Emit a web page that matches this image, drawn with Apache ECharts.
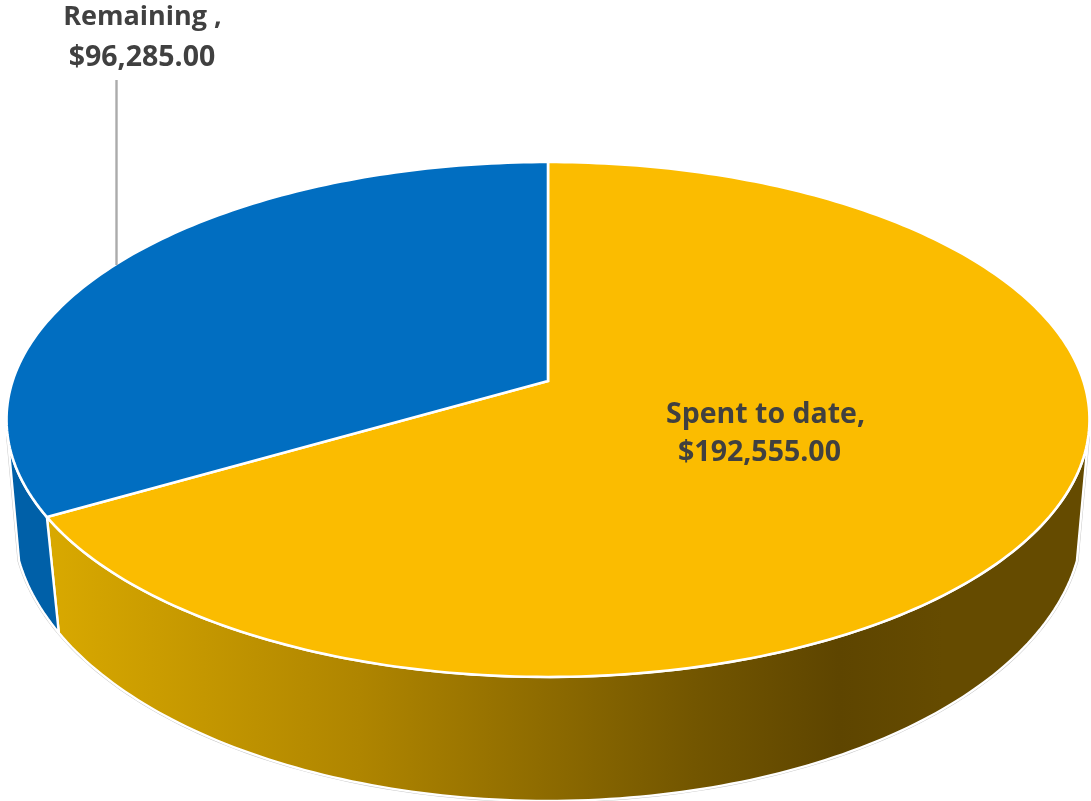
<!DOCTYPE html>
<html>
<head>
<meta charset="utf-8">
<style>
  html, body { margin: 0; padding: 0; background: #fff; }
  #chart { width: 1091px; height: 801px; }
</style>
<script src="https://cdn.jsdelivr.net/npm/echarts@6/dist/echarts.min.js"></script>
</head>
<body>
<div id="chart"></div>
<script>
// Project budget split
const categories = ['Spent to date', 'Remaining '];
const amounts = [192555, 96285];
const sliceColors = ['#FBBC00', '#016EC1'];

// Perspective model of the disc: a rim point at clockwise angle t from the back
// maps through x = cx + a*sin(t)/w, y = cy - b*cos(t)/w, w = 1 + k*cos(t).
const topFace = { cx: 548, cy: 381, a: 535.4, b: 251.7, k: 0.1495 };
const baseFace = { cx: 548, cy: 485, a: 531, b: 278, k: 0.12 };

// Angles where the wall's outline leaves the top rim and meets the base rim.
const topTangent = 102.5;
const baseTangent = 105.3;
const STEP = 1;

const wallFills = [
  {
    type: 'linear', x: 47, y: 0, x2: 1089, y2: 0, global: true,
    colorStops: [
      { offset: 0, color: '#D9A900' },
      { offset: 0.3, color: '#AF8500' },
      { offset: 0.62, color: '#735600' },
      { offset: 0.76, color: '#5E4500' },
      { offset: 0.86, color: '#654B00' },
      { offset: 1, color: '#654B00' }
    ]
  },
  '#0060A8'
];

// Label layout: each text line has its own anchor and size.
const labelLayouts = [
  [{ x: 765.5, y: 415, size: 28.5 }, { x: 759.5, y: 453, size: 28.5 }],
  [{ x: 142.5, y: 17, size: 27 }, { x: 142, y: 58, size: 28.5 }]
];
const leaderLines = [null, [[116.5, 80], [116.5, 265]]];

const total = amounts.reduce((s, v) => s + v, 0);

function project(face, deg) {
  const t = deg * Math.PI / 180;
  const w = 1 + face.k * Math.cos(t);
  return [face.cx + face.a * Math.sin(t) / w, face.cy - face.b * Math.cos(t) / w];
}

function arc(face, from, to) {
  const pts = [];
  const dir = to >= from ? 1 : -1;
  const n = Math.max(1, Math.round(Math.abs(to - from) / STEP));
  for (let i = 0; i <= n; i++) {
    pts.push(project(face, from + dir * Math.abs(to - from) * i / n));
  }
  return pts;
}

// The wall only shows between the two outline tangents on the near side.
function wallPoints(start, end) {
  const topFrom = Math.max(start, topTangent);
  const topTo = Math.min(end, 360 - topTangent);
  const baseFrom = Math.max(start, baseTangent);
  const baseTo = Math.min(end, 360 - baseTangent);
  if (topFrom >= topTo) return null;
  return arc(topFace, topFrom, topTo).concat(arc(baseFace, baseTo, baseFrom));
}

// Faint contour around the whole solid, sitting just outside the white edges.
function contourPoints() {
  return arc(topFace, topTangent - 360, -topTangent)
    .concat(arc(baseFace, 360 - baseTangent, baseTangent));
}

function money(v) {
  return '$' + v.toLocaleString('en-US', { minimumFractionDigits: 2, maximumFractionDigits: 2 });
}

function renderSlice(params, api) {
  const i = params.dataIndex;
  let before = 0;
  for (let j = 0; j < i; j++) before += amounts[j];
  const start = before / total * 360;
  const end = (before + api.value(0)) / total * 360;
  const children = [];

  if (i === 0) {
    children.push({
      type: 'polygon',
      z2: -1,
      shape: { points: contourPoints() },
      style: { fill: 'none', stroke: '#C4C4C4', lineWidth: 3.2, lineJoin: 'round' }
    });
  }

  const wall = wallPoints(start, end);
  if (wall) {
    children.push({
      type: 'polygon',
      shape: { points: wall },
      style: { fill: wallFills[i], stroke: '#fff', lineWidth: 2.4, lineJoin: 'round' }
    });
  }

  const face = [[topFace.cx, topFace.cy]].concat(arc(topFace, start, end));
  children.push({
    type: 'polygon',
    z2: 5,
    shape: { points: face },
    style: { fill: sliceColors[i], stroke: '#fff', lineWidth: 2.6, lineJoin: 'miter' }
  });

  if (leaderLines[i]) {
    const [a, b] = leaderLines[i];
    children.push({
      type: 'line',
      z2: 6,
      shape: { x1: a[0], y1: a[1], x2: b[0], y2: b[1] },
      style: { stroke: '#ABABAB', lineWidth: 2.4 }
    });
  }

  const textLines = [categories[i] + ',', money(api.value(0))];
  textLines.forEach((line, n) => {
    const place = labelLayouts[i][n];
    children.push({
      type: 'text',
      z2: 7,
      x: place.x,
      y: place.y,
      style: {
        text: line,
        fontFamily: 'Open Sans',
        fontWeight: 'bold',
        fontSize: place.size,
        fill: '#404040',
        align: 'center',
        verticalAlign: 'middle'
      }
    });
  });

  return { type: 'group', children };
}

const chart = echarts.init(document.getElementById('chart'), null, { renderer: 'canvas' });
chart.setOption({
  animation: false,
  backgroundColor: '#fff',
  series: [{
    type: 'custom',
    coordinateSystem: 'none',
    silent: true,
    renderItem: renderSlice,
    data: amounts.map((v, i) => ({ name: categories[i], value: [v] }))
  }]
});
</script>
</body>
</html>
